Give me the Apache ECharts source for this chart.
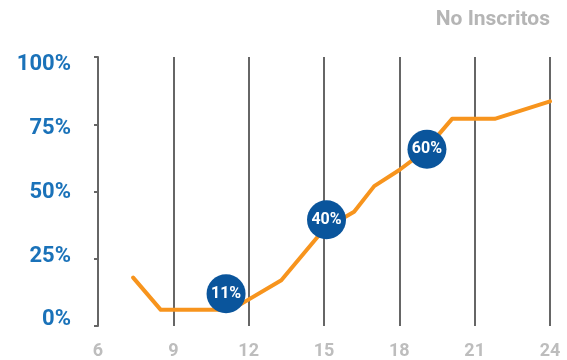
<!DOCTYPE html>
<html>
<head>
<meta charset="utf-8">
<script src="https://cdn.jsdelivr.net/npm/echarts@6/dist/echarts.min.js"></script>
<style>
  html, body { margin: 0; padding: 0; background: #fff; }
  #chart { width: 567px; height: 360px; }
</style>
</head>
<body>
<div id="chart"></div>
<script>
// curva de no inscritos (x, %)
var lineX = [7.4, 8.5, 11.3, 13.3, 15.0, 16.2, 17.0, 18.0, 19.0, 20.1, 21.8, 24.0];
var lineY = [18, 6, 6, 17, 36, 42.5, 52, 58, 65, 77, 77, 83.5];

// burbujas con etiqueta
var bubbleX = [11.1, 15.1, 19.1];
var bubbleY = [12, 39.5, 65.7];
var bubbleText = ['11%', '40%', '60%'];

var xTicks = [6, 9, 12, 15, 18, 21, 24];
var yTicks = [0, 25, 50, 75, 100];

var chart = echarts.init(document.getElementById('chart'));

var option = {
  animation: false,
  title: {
    text: 'No Inscritos',
    right: 17,
    top: 9,
    padding: 0,
    textStyle: {
      fontFamily: 'Roboto',
      fontWeight: 'bold',
      fontSize: 21,
      color: '#b5b5b5'
    }
  },
  grid: {
    left: 98,
    right: 17,
    top: 57,
    bottom: 34
  },
  xAxis: {
    type: 'value',
    min: xTicks[0],
    max: xTicks[xTicks.length - 1],
    interval: 3,
    axisLine: { show: false },
    axisTick: { show: false },
    splitLine: { show: true, lineStyle: { color: '#666', width: 2 } },
    axisLabel: {
      margin: 16,
      fontFamily: 'Roboto',
      fontWeight: 'bold',
      fontSize: 18,
      color: '#bdbdbd'
    }
  },
  yAxis: [
    {
      type: 'value',
      min: yTicks[0],
      max: yTicks[yTicks.length - 1],
      interval: 25,
      axisLine: { show: true, lineStyle: { color: '#666', width: 2 } },
      axisTick: { show: true, length: 4, lineStyle: { color: '#666', width: 2 } },
      splitLine: { show: false },
      axisLabel: { show: false }
    },
    {
      // solo etiquetas, un poco mas juntas que las marcas
      type: 'value',
      position: 'left',
      offset: 0,
      min: -2.35,
      max: 102.94,
      axisLine: { show: false },
      axisTick: { show: false },
      splitLine: { show: false },
      axisLabel: {
        customValues: yTicks,
        margin: 27,
        formatter: '{value}%',
        fontFamily: 'Roboto',
        fontWeight: 'bold',
        fontSize: 22,
        color: '#1a72b9'
      }
    }
  ],
  series: [
    {
      type: 'line',
      data: lineX.map(function (x, i) { return [x, lineY[i]]; }),
      symbol: 'none',
      lineStyle: { color: '#f7941d', width: 4, join: 'round', cap: 'round' },
      z: 2
    },
    {
      type: 'scatter',
      data: bubbleX.map(function (x, i) { return [x, bubbleY[i]]; }),
      symbolSize: 39,
      itemStyle: { color: '#0a559c', opacity: 1 },
      label: {
        show: true,
        position: 'inside',
        formatter: function (p) { return bubbleText[p.dataIndex]; },
        fontFamily: 'Roboto',
        fontWeight: 'bold',
        fontSize: 16,
        color: '#fff'
      },
      z: 3
    }
  ]
};

chart.setOption(option);
</script>
</body>
</html>
